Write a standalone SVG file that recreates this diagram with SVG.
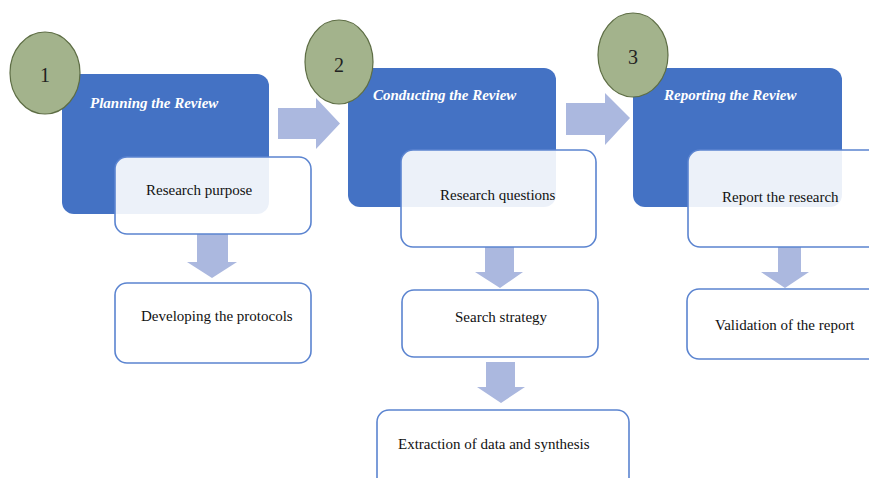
<svg xmlns="http://www.w3.org/2000/svg" width="869" height="478" viewBox="0 0 869 478">
<style>
.bg{fill:#ffffff}
.phase{fill:#4472c4}
.card{fill:#ffffff;fill-opacity:0.9;stroke:#5b84d0;stroke-width:1.6}
.num{fill:#a3b38c;stroke:#5e6e45;stroke-width:1.2}
.arrow{fill:#abb8df}
.title{font-family:"Liberation Serif","Times New Roman",serif;font-style:italic;font-weight:bold;font-size:15px;fill:#ffffff}
.lbl{font-family:"Liberation Serif","Times New Roman",serif;font-size:15px;fill:#111111}
.n{font-family:"Liberation Serif","Times New Roman",serif;font-size:20px;fill:#222222;text-anchor:middle}
</style>
<rect class="bg" x="0" y="0" width="869" height="478"/>
<g id="connectors">
<path class="arrow" d="M278,108 H316 V98 L340,123.5 L316,149 V139 H278 Z"/>
<path class="arrow" d="M566,103 H605 V93 L630,118 L605,145 V135 H566 Z"/>
<path class="arrow" d="M197,234 H228 V262 H237 L212,278 L187,262 H197 Z"/>
<path class="arrow" d="M485,247 H514 V272 H523 L500,288 L475,272 H485 Z"/>
<path class="arrow" d="M486,362 H515 V387 H525 L501,403 L477,387 H486 Z"/>
<path class="arrow" d="M778,247 H801 V272 H809 L785,288 L761,272 H778 Z"/>
</g>
<g id="phase1">
<rect class="phase" x="62" y="74" width="207" height="140" rx="12"/>
<text class="title" x="90" y="108">Planning the Review</text>
</g>
<g id="phase2">
<rect class="phase" x="348" y="68" width="208" height="139" rx="12"/>
<text class="title" x="373" y="100">Conducting the Review</text>
</g>
<g id="phase3">
<rect class="phase" x="633" y="68" width="209" height="139" rx="12"/>
<text class="title" x="664" y="100">Reporting the Review</text>
</g>
<g id="badge1">
<ellipse class="num" cx="45" cy="73" rx="35" ry="41"/>
<text class="n" x="45" y="82">1</text>
</g>
<g id="badge2">
<ellipse class="num" cx="339" cy="62" rx="34" ry="42"/>
<text class="n" x="339" y="72">2</text>
</g>
<g id="badge3">
<ellipse class="num" cx="633" cy="55" rx="35" ry="42"/>
<text class="n" x="633" y="64">3</text>
</g>
<g id="research-purpose">
<rect class="card" x="115" y="157" width="196" height="77" rx="12"/>
<text class="lbl" x="146" y="195">Research purpose</text>
</g>
<g id="developing-protocols">
<rect class="card" x="115" y="283" width="196" height="80" rx="12"/>
<text class="lbl" x="141" y="321">Developing the protocols</text>
</g>
<g id="research-questions">
<rect class="card" x="401" y="150" width="195" height="97" rx="12"/>
<text class="lbl" x="440" y="200">Research questions</text>
</g>
<g id="search-strategy">
<rect class="card" x="402" y="290" width="196" height="67" rx="12"/>
<text class="lbl" x="455" y="322">Search strategy</text>
</g>
<g id="extraction">
<rect class="card" x="377" y="410" width="252" height="90" rx="12"/>
<text class="lbl" x="398" y="449">Extraction of data and synthesis</text>
</g>
<g id="report-research">
<rect class="card" x="688" y="150" width="200" height="97" rx="12"/>
<text class="lbl" x="722" y="202">Report the research</text>
</g>
<g id="validation">
<rect class="card" x="687" y="289" width="200" height="70" rx="12"/>
<text class="lbl" x="715" y="330">Validation of the report</text>
</g>
</svg>
